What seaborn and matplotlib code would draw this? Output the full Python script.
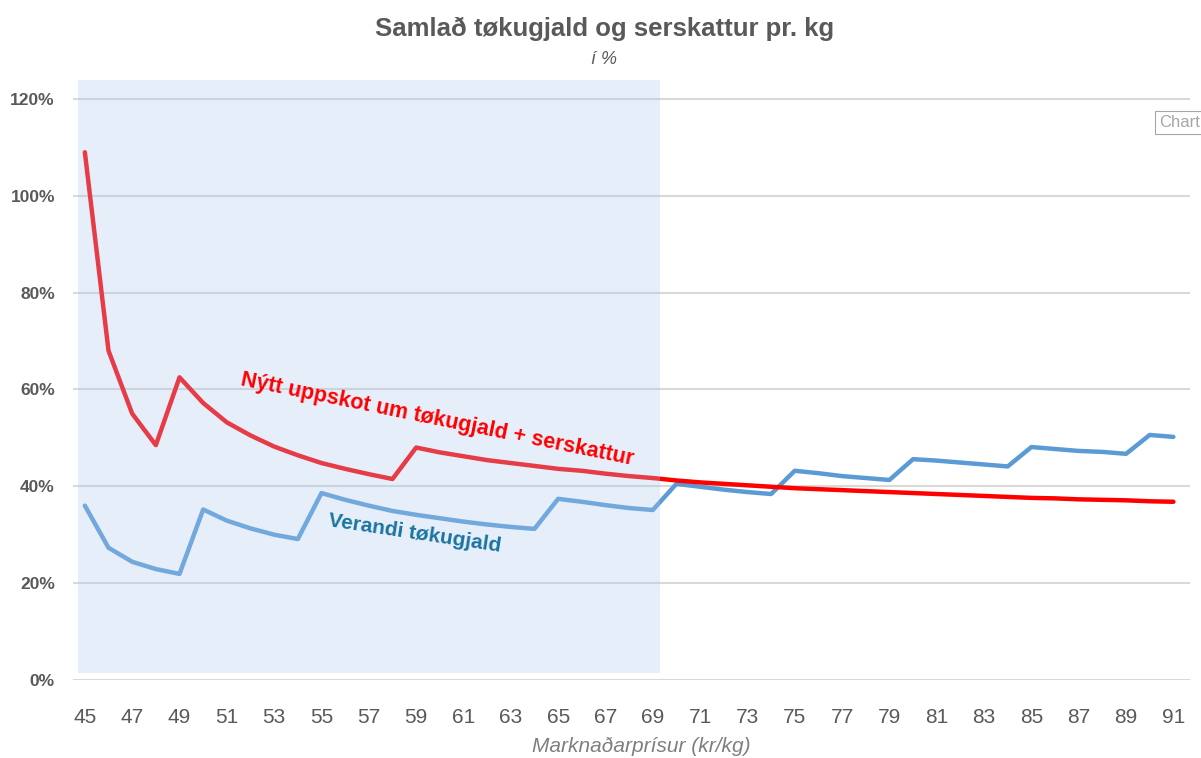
import numpy as np
import pandas as pd
import matplotlib
matplotlib.use("Agg")
import matplotlib.pyplot as plt
import seaborn as sns

# ---- data ----
prices = list(range(45, 92))
nytt = [109.0, 68.0, 55.0, 48.5, 62.5, 57.2, 53.2, 50.5, 48.2, 46.4, 44.8, 43.6, 42.5, 41.5,
        48.0, 47.0, 46.2, 45.4, 44.8, 44.2, 43.6, 43.2, 42.6, 42.1, 41.7,
        41.2, 40.8, 40.5, 40.2, 39.9, 39.6, 39.4, 39.2, 39.0, 38.8, 38.6, 38.4, 38.2, 38.0,
        37.8, 37.6, 37.5, 37.3, 37.2, 37.1, 36.9, 36.8]
verandi = [36.0, 27.3, 24.4, 22.9, 21.9, 35.2, 32.9, 31.3, 30.0, 29.1, 38.6, 37.2, 36.0,
           34.9, 34.1, 33.4, 32.7, 32.1, 31.6, 31.2, 37.4, 36.8, 36.1, 35.5, 35.1,
           40.5, 39.9, 39.3, 38.8, 38.4, 43.2, 42.7, 42.1, 41.7, 41.3, 45.6, 45.3, 44.9,
           44.5, 44.1, 48.1, 47.7, 47.3, 47.1, 46.7, 50.6, 50.2]
series_names = ["Nýtt uppskot um tøkugjald + serskattur", "Verandi tøkugjald"]
shade_range = (44.7, 69.3)
y_ticks = [0, 20, 40, 60, 80, 100, 120]
x_ticks = list(range(45, 92, 2))

df = pd.DataFrame({
    "price": prices * 2,
    "value": [v / 100 for v in nytt] + [v / 100 for v in verandi],
    "series": [series_names[0]] * len(prices) + [series_names[1]] * len(prices),
})

sns.set_theme(style="white")
plt.rcParams["font.family"] = ["Liberation Sans", "DejaVu Sans"]

fig = plt.figure(figsize=(12.01, 7.58), dpi=100)
ax = fig.add_axes([0.0608, 0.103, 0.930, 0.792])

sns.lineplot(data=df, x="price", y="value", hue="series",
             palette={series_names[0]: "#FF0000", series_names[1]: "#5B9BD5"},
             hue_order=[series_names[1], series_names[0]],
             linewidth=3.2, legend=False, ax=ax, zorder=3)

ax.set_xlim(44.5, 91.7)
ax.set_ylim(0, 1.24)
ax.axvspan(shade_range[0], shade_range[1], ymin=0.014 / 1.24, ymax=1.0,
           color="#A9C8EC", alpha=0.3, lw=0, zorder=4)

for t in y_ticks:
    ax.axhline(t / 100, color="#D9D9D9", lw=1.5, zorder=1)

ax.set_yticks([t / 100 for t in y_ticks])
ax.set_yticklabels([f"{t}%" for t in y_ticks], fontsize=12.5, fontweight="bold", color="#595959")
ax.set_xticks(x_ticks)
ax.set_xticklabels([str(t) for t in x_ticks], fontsize=15, color="#595959",
                   family=["Liberation Sans Narrow", "Liberation Sans", "DejaVu Sans"])
ax.tick_params(axis="both", length=0)
ax.tick_params(axis="x", pad=20)
ax.tick_params(axis="y", pad=13)
for s in ax.spines.values():
    s.set_visible(False)
ax.grid(False)
ax.set_ylabel("")
ax.set_xlabel("Marknaðarprísur (kr/kg)", fontsize=15, style="italic", color="#7F7F7F", labelpad=10)
ax.xaxis.set_label_coords(0.509, -0.095)

fig.text(0.503, 0.962, "Samlað tøkugjald og serskattur pr. kg", ha="center", va="center",
         fontsize=18.5, fontweight="bold", color="#595959")
fig.text(0.503, 0.922, "í %", ha="center", va="center", fontsize=13, style="italic", color="#595959")

ax.text(59.9, 0.538, series_names[0], rotation=-11.5, ha="center", va="center",
        fontsize=15.5, fontweight="bold", color="#FF0000", zorder=5, rotation_mode="anchor")
ax.text(58.95, 0.302, series_names[1], rotation=-8.5, ha="center", va="center",
        fontsize=15, fontweight="bold", color="#1B75A0", zorder=5, rotation_mode="anchor")

fig.text(0.965, 0.838, "Chart", ha="left", va="center", fontsize=12, color="#A6A6A6",
         bbox=dict(boxstyle="square,pad=0.25", fc="white", ec="#A6A6A6", lw=0.8))

fig.savefig("out.png", dpi=100)
